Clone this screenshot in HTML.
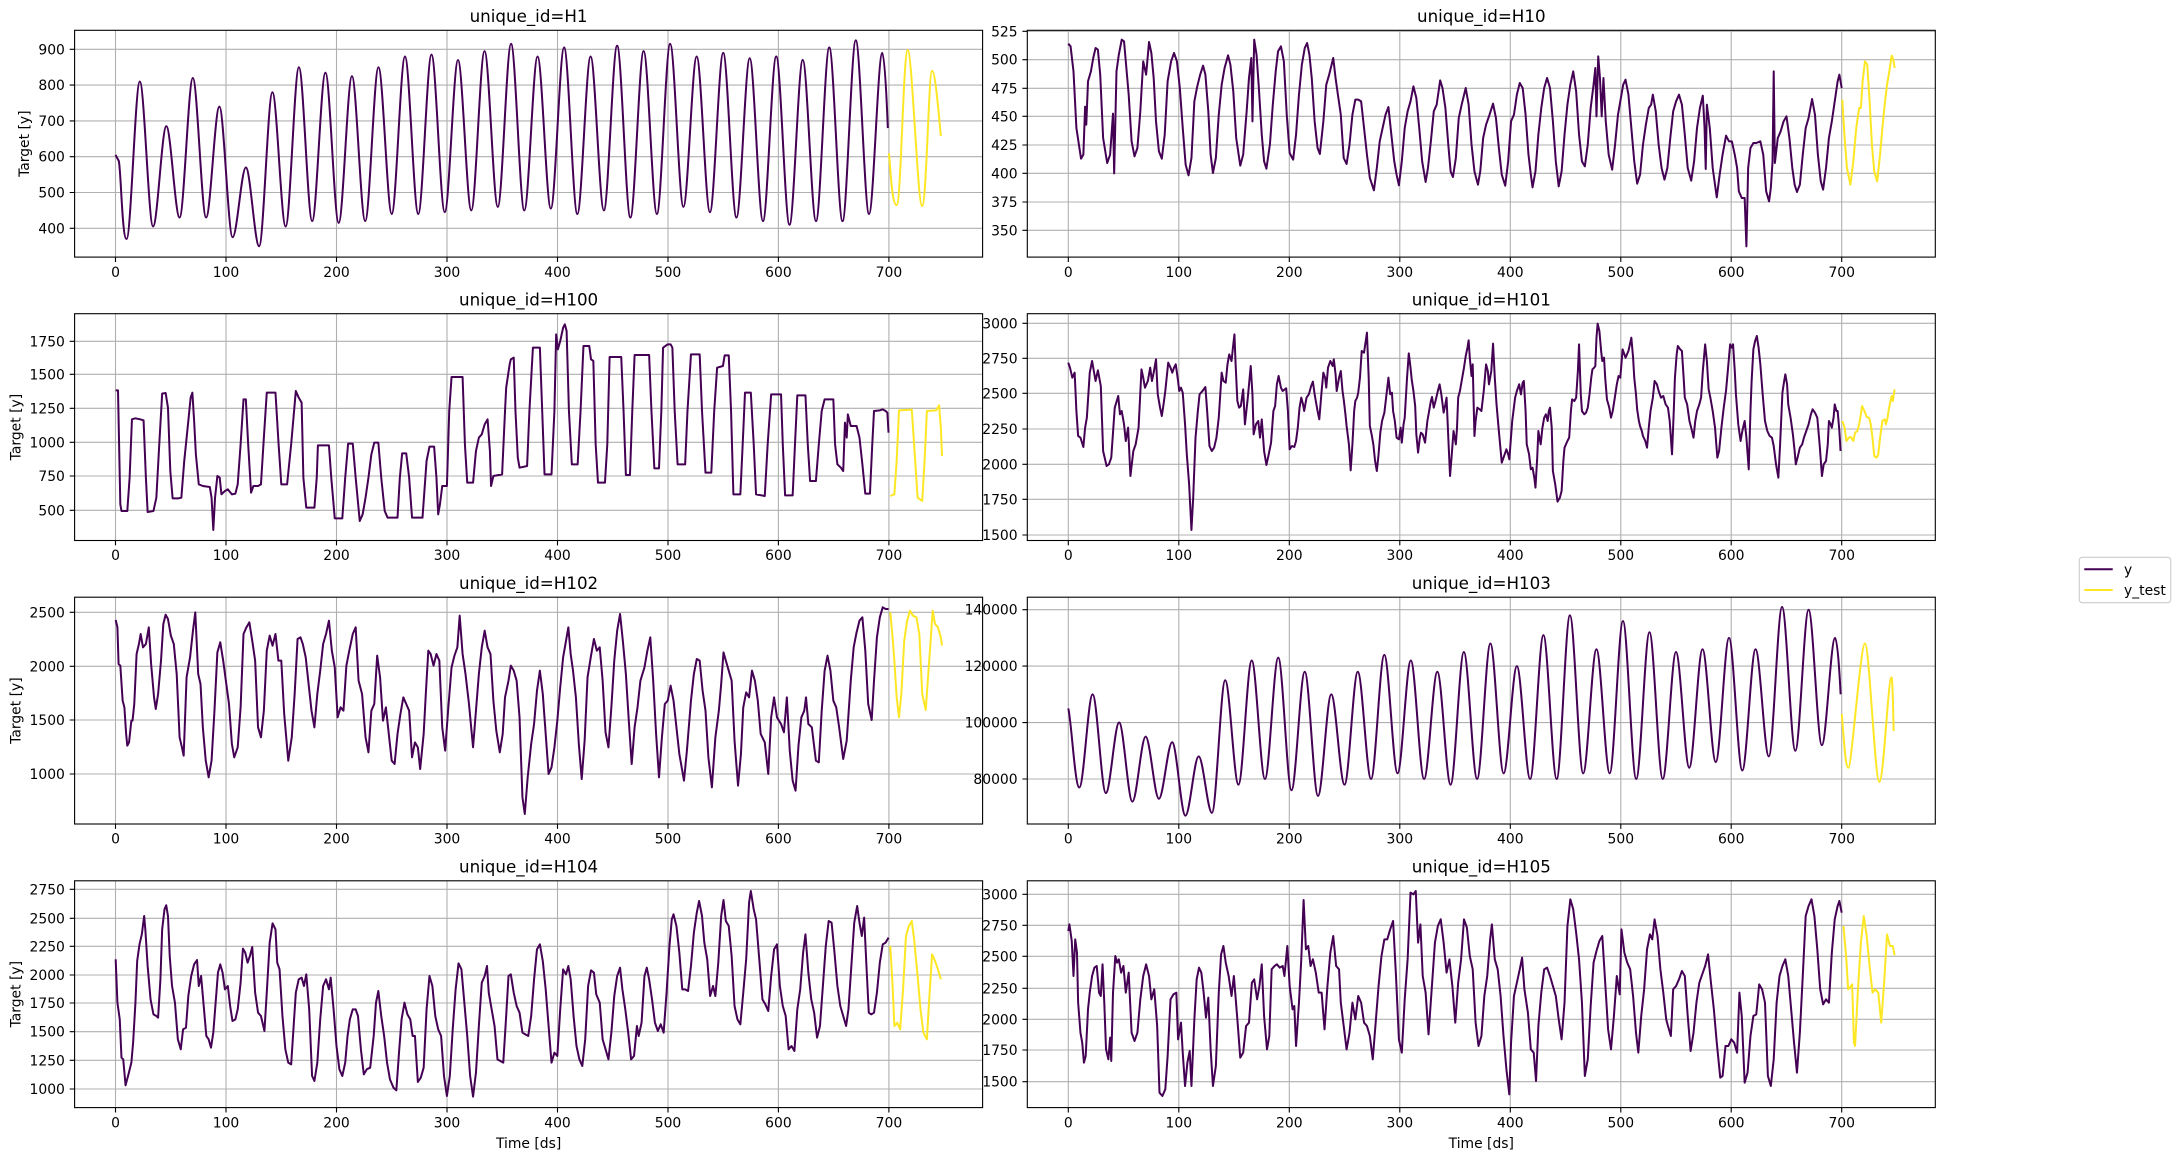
<!DOCTYPE html>
<html><head><meta charset="utf-8">
<style>
html,body{margin:0;padding:0;background:#fff;}
svg{display:block;}
text{font-family:"DejaVu Sans","Liberation Sans",sans-serif;fill:#000;}
.t{font-size:13.9px;}
.ti{font-size:16.7px;}
.g{stroke:#b0b0b0;stroke-width:1.1;fill:none;}
.tk{stroke:#000;stroke-width:1.1;fill:none;}
.ax{fill:none;stroke:#000;stroke-width:1.1;}
.p{fill:none;stroke:#440154;stroke-width:2;stroke-linejoin:round;vector-effect:non-scaling-stroke;}
.yl{fill:none;stroke:#fde725;stroke-width:2;stroke-linejoin:round;vector-effect:non-scaling-stroke;}
</style></head><body>
<svg xmlns="http://www.w3.org/2000/svg" width="2177" height="1161" viewBox="0 0 2177 1161">
<rect width="2177" height="1161" fill="#fff"/>

<!-- ================= H1 (left, row1) ================= -->
<path class="g" d="M115.5 30.3V257.1M226 30.3V257.1M336.5 30.3V257.1M447 30.3V257.1M557.5 30.3V257.1M668 30.3V257.1M778.4 30.3V257.1M888.9 30.3V257.1M74.6 228.3H982.6M74.6 192.5H982.6M74.6 156.7H982.6M74.6 120.9H982.6M74.6 85.1H982.6M74.6 49.3H982.6"/>
<path class="p" transform="matrix(1.1049 0 0 -0.358 115.5 371.5)" d="M0 605 L3 588 C5 560 6 370 10 370 S18 810 22 810 S30 405 34 405 S42 685 46 685 S54 430 58 430 S66 820 70 820 S78 430 82 430 S90 740 94 740 S102 375 106 375 S114 570 118 570 S126 350 130 350 S138 780 142 780 S150 405 154 405 S162 850 166 850 S174 420 178 420 S186 835 190 835 S198 415 202 415 S210 825 214 825 S222 420 226 420 S234 850 238 850 S246 440 250 440 S258 880 262 880 S270 440 274 440 S282 885 286 885 S294 445 298 445 S306 870 310 870 S318 450 322 450 S330 895 334 895 S342 460 346 460 S354 915 358 915 S366 450 370 450 S378 880 382 880 S390 455 394 455 S402 905 406 905 S414 440 418 440 S426 880 430 880 S438 450 442 450 S450 910 454 910 S462 430 466 430 S474 895 478 895 S486 440 490 440 S498 915 502 915 S510 460 514 460 S522 880 526 880 S534 445 538 445 S546 890 550 890 S558 430 562 430 S570 875 574 875 S582 420 586 420 S594 880 598 880 S606 410 610 410 S618 870 622 870 S630 420 634 420 S642 905 646 905 S654 420 658 420 S666 925 670 925 S678 440 682 440 S690 890 694 890 C696 890 698 760 699 680"/>
<path class="yl" transform="matrix(1.1049 0 0 -0.358 115.5 371.5)" d="M700 610 C702 540 703 465 707 465 S713 898 717 898 S726 462 730 462 S736 840 739 840 C742 840 745 720 747 658"/>
<path class="tk" d="M115.5 257.1v4.9M226 257.1v4.9M336.5 257.1v4.9M447 257.1v4.9M557.5 257.1v4.9M668 257.1v4.9M778.4 257.1v4.9M888.9 257.1v4.9M74.6 228.3h-4.9M74.6 192.5h-4.9M74.6 156.7h-4.9M74.6 120.9h-4.9M74.6 85.1h-4.9M74.6 49.3h-4.9"/>
<rect class="ax" x="74.6" y="30.3" width="908" height="226.8"/>
<g class="t" text-anchor="middle"><text x="115.5" y="276.8">0</text><text x="226" y="276.8">100</text><text x="336.5" y="276.8">200</text><text x="447" y="276.8">300</text><text x="557.5" y="276.8">400</text><text x="668" y="276.8">500</text><text x="778.4" y="276.8">600</text><text x="888.9" y="276.8">700</text></g>
<g class="t" text-anchor="end"><text x="64.9" y="233.3">400</text><text x="64.9" y="197.5">500</text><text x="64.9" y="161.7">600</text><text x="64.9" y="125.9">700</text><text x="64.9" y="90.1">800</text><text x="64.9" y="54.3">900</text></g>
<text class="ti" x="528.6" y="22" text-anchor="middle">unique_id=H1</text>
<text class="t" transform="translate(29 143.7) rotate(-90)" text-anchor="middle">Target [y]</text>

<!-- ================= H10 (right, row1) ================= -->
<path class="g" d="M1068.3 30.3V257.1M1178.8 30.3V257.1M1289.3 30.3V257.1M1399.8 30.3V257.1M1510.3 30.3V257.1M1620.8 30.3V257.1M1731.2 30.3V257.1M1841.7 30.3V257.1M1027.3 230.3H1935.3M1027.3 202H1935.3M1027.3 173.3H1935.3M1027.3 145H1935.3M1027.3 116.3H1935.3M1027.3 88.3H1935.3M1027.3 59.7H1935.3M1027.3 31.3H1935.3"/>
<polyline class="p" transform="matrix(0.58110 0 0 0.33333 1027 28)" points="71,47 75,55 80,130 85,300 93,392 97,380 100,236 102,290 105,160 110,130 114,90 118,60 122,65 126,140 131,330 138,405 143,380 148,257 150,436 154,130 158,80 163,35 167,40 170,100 175,200 180,340 185,385 190,360 195,250 200,100 205,140 210,42 214,75 218,150 222,280 227,370 232,392 237,320 242,160 248,100 253,75 258,100 263,180 268,300 273,410 278,442 283,390 288,220 293,175 298,140 303,113 307,140 312,250 316,380 320,435 325,390 330,260 335,170 340,120 346,82 350,110 355,190 360,330 367,413 372,380 378,250 382,150 386,90 388,280 391,35 395,80 399,180 404,320 408,400 412,422 418,350 423,230 428,130 432,70 437,55 442,100 447,260 452,375 458,395 463,320 468,200 473,110 478,60 482,45 486,80 490,150 495,280 500,360 504,378 510,280 515,170 520,140 527,90 531,150 535,200 540,260 545,390 550,408 555,350 560,260 565,215 570,215 575,220 580,300 585,380 590,450 597,487 602,420 607,340 612,300 617,260 622,237 627,320 632,400 636,440 640,472 645,400 650,300 655,250 660,220 665,175 670,210 675,300 680,400 686,462 690,420 695,340 700,250 705,230 711,157 715,180 720,240 725,350 729,430 733,447 738,390 743,270 748,230 755,180 760,230 765,350 770,430 776,470 780,430 785,330 790,290 796,260 802,227 807,270 812,360 817,440 823,473 828,400 833,280 838,260 843,200 848,165 853,180 858,260 863,380 867,440 870,478 875,430 880,320 885,240 890,180 895,150 900,180 905,280 910,400 915,475 920,430 925,320 930,230 935,170 940,130 945,190 950,320 955,400 960,415 965,350 970,240 975,170 978,120 980,265 983,85 986,150 989,265 992,150 996,280 1001,380 1007,425 1012,350 1017,260 1022,210 1026,170 1030,155 1035,200 1040,300 1045,400 1050,467 1055,440 1060,350 1065,290 1070,240 1074,230 1077,200 1082,250 1087,350 1092,420 1097,455 1102,420 1107,330 1112,250 1117,220 1122,200 1127,230 1132,320 1137,420 1143,458 1148,400 1153,300 1158,240 1163,203 1166,300 1168,423 1170,230 1175,300 1180,420 1187,508 1192,440 1197,380 1203,323 1208,340 1213,340 1218,380 1222,420 1225,490 1230,510 1235,510 1238,655 1241,420 1245,360 1250,345 1255,345 1262,340 1267,380 1272,490 1277,520 1280,480 1283,400 1285,130 1287,405 1292,330 1297,310 1302,280 1307,265 1312,330 1317,420 1321,470 1325,492 1330,470 1335,380 1340,300 1345,270 1351,213 1356,260 1361,380 1366,460 1370,485 1375,420 1380,330 1385,280 1390,220 1395,160 1398,140 1402,180"/>
<polyline class="yl" transform="matrix(0.58110 0 0 0.33333 1027 28)" points="1403,215 1407,330 1411,420 1417,470 1422,400 1427,300 1432,240 1435,240 1438,160 1442,100 1446,110 1450,220 1454,350 1458,430 1463,460 1468,380 1472,300 1476,230 1480,170 1484,130 1488,83 1491,95 1493,120"/>
<path class="tk" d="M1068.3 257.1v4.9M1178.8 257.1v4.9M1289.3 257.1v4.9M1399.8 257.1v4.9M1510.3 257.1v4.9M1620.8 257.1v4.9M1731.2 257.1v4.9M1841.7 257.1v4.9M1027.3 230.3h-4.9M1027.3 202h-4.9M1027.3 173.3h-4.9M1027.3 145h-4.9M1027.3 116.3h-4.9M1027.3 88.3h-4.9M1027.3 59.7h-4.9M1027.3 31.3h-4.9"/>
<rect class="ax" x="1027.3" y="30.3" width="908" height="226.8"/>
<g class="t" text-anchor="middle"><text x="1068.3" y="276.8">0</text><text x="1178.8" y="276.8">100</text><text x="1289.3" y="276.8">200</text><text x="1399.8" y="276.8">300</text><text x="1510.3" y="276.8">400</text><text x="1620.8" y="276.8">500</text><text x="1731.2" y="276.8">600</text><text x="1841.7" y="276.8">700</text></g>
<g class="t" text-anchor="end"><text x="1017.6" y="235.3">350</text><text x="1017.6" y="207">375</text><text x="1017.6" y="178.3">400</text><text x="1017.6" y="150">425</text><text x="1017.6" y="121.3">450</text><text x="1017.6" y="93.3">475</text><text x="1017.6" y="64.7">500</text><text x="1017.6" y="36.3">525</text></g>
<text class="ti" x="1481.3" y="22" text-anchor="middle">unique_id=H10</text>

<!-- ================= H100 (left, row2) ================= -->
<path class="g" d="M115.5 313.7V540.5M226 313.7V540.5M336.5 313.7V540.5M447 313.7V540.5M557.5 313.7V540.5M668 313.7V540.5M778.4 313.7V540.5M888.9 313.7V540.5M74.6 510.3H982.6M74.6 476H982.6M74.6 442.3H982.6M74.6 408.3H982.6M74.6 374.3H982.6M74.6 341.3H982.6"/>
<polyline class="p" transform="matrix(0.58110 0 0 0.33333 75 311)" points="70,238 74,238 78,580 80,600 90,600 94,500 98,325 104,322 112,325 118,328 122,500 125,603 135,600 140,560 145,400 150,248 156,246 160,290 164,480 168,562 178,562 183,560 188,450 195,330 199,260 202,245 205,330 208,430 213,520 220,525 232,528 235,560 238,657 241,560 245,495 249,500 252,550 258,540 263,535 270,550 276,548 280,520 285,400 290,265 294,265 298,400 303,545 307,525 315,525 320,520 325,380 330,245 345,245 350,390 355,520 365,520 372,400 380,240 385,260 390,275 393,500 398,590 412,590 416,500 418,403 437,403 441,500 447,622 460,622 465,500 470,398 478,398 483,500 490,630 495,610 500,560 505,500 510,430 515,395 522,395 527,500 533,600 538,620 555,620 559,500 563,427 570,427 575,500 580,620 598,620 605,450 610,407 618,407 622,500 625,610 628,580 632,525 640,525 644,300 648,198 667,198 671,400 675,515 685,515 690,420 695,380 700,370 705,340 710,325 714,420 716,525 720,495 735,490 740,300 742,230 748,160 750,145 755,140 758,300 762,440 765,470 778,465 782,300 788,110 800,110 804,300 808,490 820,490 825,300 828,70 831,115 835,90 840,50 843,40 846,60 850,300 855,460 865,460 870,300 875,105 885,105 888,145 892,150 896,400 900,515 912,515 916,400 920,138 940,138 944,300 948,492 955,492 959,300 963,132 988,132 992,300 997,472 1005,472 1009,300 1012,110 1020,100 1025,100 1028,110 1032,300 1037,460 1050,460 1054,300 1060,130 1075,130 1079,300 1085,485 1095,485 1100,300 1105,170 1115,165 1118,133 1125,133 1129,300 1133,550 1145,550 1149,400 1153,245 1163,245 1168,400 1172,550 1187,555 1192,400 1198,250 1215,250 1218,400 1222,553 1235,553 1239,400 1243,253 1257,253 1261,400 1265,510 1275,510 1280,400 1285,300 1290,265 1305,265 1308,400 1312,460 1318,470 1322,480 1325,335 1328,380 1330,310 1335,345 1345,345 1350,380 1355,460 1360,548 1368,548 1372,400 1375,300 1385,298 1390,295 1395,300 1398,305 1400,365"/>
<polyline class="yl" transform="matrix(0.58110 0 0 0.33333 75 311)" points="1403,555 1410,550 1414,450 1418,298 1440,296 1444,400 1450,560 1458,570 1462,450 1466,300 1482,298 1487,283 1490,350 1492,435"/>
<path class="tk" d="M115.5 540.5v4.9M226 540.5v4.9M336.5 540.5v4.9M447 540.5v4.9M557.5 540.5v4.9M668 540.5v4.9M778.4 540.5v4.9M888.9 540.5v4.9M74.6 510.3h-4.9M74.6 476h-4.9M74.6 442.3h-4.9M74.6 408.3h-4.9M74.6 374.3h-4.9M74.6 341.3h-4.9"/>
<rect class="ax" x="74.6" y="313.7" width="908" height="226.8"/>
<g class="t" text-anchor="middle"><text x="115.5" y="560.2">0</text><text x="226" y="560.2">100</text><text x="336.5" y="560.2">200</text><text x="447" y="560.2">300</text><text x="557.5" y="560.2">400</text><text x="668" y="560.2">500</text><text x="778.4" y="560.2">600</text><text x="888.9" y="560.2">700</text></g>
<g class="t" text-anchor="end"><text x="64.9" y="515.3">500</text><text x="64.9" y="481">750</text><text x="64.9" y="447.3">1000</text><text x="64.9" y="413.3">1250</text><text x="64.9" y="379.3">1500</text><text x="64.9" y="346.3">1750</text></g>
<text class="ti" x="528.6" y="305.4" text-anchor="middle">unique_id=H100</text>
<text class="t" transform="translate(20.5 427.1) rotate(-90)" text-anchor="middle">Target [y]</text>

<!-- ================= H101 (right, row2) ================= -->
<path class="g" d="M1068.3 313.7V540.5M1178.8 313.7V540.5M1289.3 313.7V540.5M1399.8 313.7V540.5M1510.3 313.7V540.5M1620.8 313.7V540.5M1731.2 313.7V540.5M1841.7 313.7V540.5M1027.3 535H1935.3M1027.3 499.3H1935.3M1027.3 464.3H1935.3M1027.3 429H1935.3M1027.3 393.3H1935.3M1027.3 358.3H1935.3M1027.3 323.3H1935.3"/>
<polyline class="p" transform="matrix(0.58110 0 0 0.33333 1027 311)" points="71,155 74,170 78,200 82,185 85,300 88,375 92,380 97,408 100,350 103,320 108,185 112,150 115,180 118,210 122,178 127,225 131,420 137,465 141,460 145,440 151,290 157,255 160,310 163,300 167,340 170,390 174,350 178,495 183,420 187,400 192,350 197,175 200,200 203,230 208,210 212,170 215,210 218,185 222,145 225,250 229,290 232,315 235,280 238,240 243,155 247,170 250,185 253,170 256,160 260,210 262,240 265,230 268,245 272,340 275,430 279,520 283,657 286,560 290,380 294,300 297,250 302,240 307,228 310,300 314,405 318,420 322,410 326,380 330,320 335,185 338,210 342,215 345,160 348,130 352,150 355,100 357,70 359,160 362,270 365,290 368,285 372,235 375,340 380,260 385,165 388,250 390,370 394,340 398,330 401,380 404,325 408,420 412,462 416,430 420,395 424,300 427,285 430,220 433,195 437,230 440,240 446,232 449,300 452,415 456,405 460,408 463,390 466,350 469,290 472,260 475,280 477,300 481,260 485,250 489,225 492,212 495,250 497,270 500,300 503,325 507,240 510,185 513,200 515,230 518,170 522,150 526,165 528,145 531,190 533,240 537,200 540,180 543,240 545,265 548,310 550,345 554,400 557,478 560,400 563,300 565,270 568,260 570,245 573,200 576,120 580,125 585,65 588,200 590,345 593,370 596,400 599,450 602,480 605,430 608,365 611,330 615,305 618,260 622,200 625,250 628,245 630,300 633,330 636,380 640,385 643,350 645,395 648,340 650,320 654,200 657,127 660,170 662,205 665,240 668,285 670,370 673,425 676,380 678,365 681,370 685,395 689,330 692,300 695,270 697,258 700,290 703,270 707,240 710,220 713,250 717,305 720,280 722,260 725,380 728,495 731,430 734,360 736,380 738,400 740,350 742,260 745,240 748,210 752,170 755,135 758,110 760,88 762,140 765,195 767,160 770,375 772,330 775,290 779,295 782,300 786,240 790,160 793,180 795,220 799,180 802,98 805,200 808,280 812,360 817,455 820,440 825,415 828,430 830,445 835,330 840,260 843,240 847,220 850,250 853,215 855,210 858,300 860,400 864,430 867,475 870,470 873,500 875,530 878,440 880,360 884,400 887,350 890,320 893,310 896,330 898,300 900,290 903,350 905,480 909,520 913,572 917,560 920,540 923,450 925,410 930,390 933,380 936,300 938,265 942,270 945,260 948,180 950,100 953,250 955,300 959,310 962,305 965,290 968,250 971,200 973,175 976,170 978,165 980,80 982,38 985,60 988,120 990,150 993,140 995,200 998,265 1002,290 1005,320 1008,300 1012,255 1015,220 1018,195 1021,200 1025,115 1030,140 1035,120 1040,80 1043,140 1045,200 1048,250 1050,295 1053,330 1055,345 1058,360 1060,375 1064,390 1067,410 1070,350 1073,300 1077,260 1080,210 1084,220 1087,240 1091,260 1095,255 1099,280 1103,290 1106,330 1110,430 1113,300 1115,200 1118,130 1120,105 1124,115 1127,120 1130,200 1132,260 1136,280 1140,330 1143,350 1147,380 1150,330 1153,300 1157,280 1160,260 1163,180 1167,100 1170,150 1173,235 1176,260 1180,300 1184,350 1188,440 1191,420 1195,350 1199,290 1203,238 1206,180 1210,100 1213,110 1215,100 1218,180 1220,250 1224,340 1228,390 1231,360 1235,330 1238,380 1242,475 1245,300 1247,210 1250,115 1253,90 1256,75 1259,110 1262,160 1266,250 1270,330 1274,360 1278,375 1282,380 1285,405 1289,460 1293,500 1296,400 1300,245 1303,210 1305,190 1308,220 1310,280 1314,320 1318,370 1321,420 1323,460 1326,440 1330,410 1334,400 1337,380 1341,360 1345,340 1349,310 1352,295 1356,305 1360,320 1364,400 1368,495 1371,460 1375,450 1378,400 1380,330 1383,340 1385,350 1388,320 1390,280 1393,300 1395,300 1398,360 1400,420"/>
<polyline class="yl" transform="matrix(0.58110 0 0 0.33333 1027 311)" points="1403,330 1407,350 1410,390 1414,380 1418,378 1422,390 1425,365 1429,360 1432,340 1435,310 1437,285 1441,300 1445,318 1449,320 1452,340 1455,380 1458,435 1462,440 1465,430 1468,380 1472,330 1476,325 1478,340 1481,320 1483,295 1486,270 1488,255 1490,270 1493,235"/>
<path class="tk" d="M1068.3 540.5v4.9M1178.8 540.5v4.9M1289.3 540.5v4.9M1399.8 540.5v4.9M1510.3 540.5v4.9M1620.8 540.5v4.9M1731.2 540.5v4.9M1841.7 540.5v4.9M1027.3 535h-4.9M1027.3 499.3h-4.9M1027.3 464.3h-4.9M1027.3 429h-4.9M1027.3 393.3h-4.9M1027.3 358.3h-4.9M1027.3 323.3h-4.9"/>
<rect class="ax" x="1027.3" y="313.7" width="908" height="226.8"/>
<g class="t" text-anchor="middle"><text x="1068.3" y="560.2">0</text><text x="1178.8" y="560.2">100</text><text x="1289.3" y="560.2">200</text><text x="1399.8" y="560.2">300</text><text x="1510.3" y="560.2">400</text><text x="1620.8" y="560.2">500</text><text x="1731.2" y="560.2">600</text><text x="1841.7" y="560.2">700</text></g>
<g class="t" text-anchor="end"><text x="1017.6" y="540">1500</text><text x="1017.6" y="504.3">1750</text><text x="1017.6" y="469.3">2000</text><text x="1017.6" y="434">2250</text><text x="1017.6" y="398.3">2500</text><text x="1017.6" y="363.3">2750</text><text x="1017.6" y="328.3">3000</text></g>
<text class="ti" x="1481.3" y="305.4" text-anchor="middle">unique_id=H101</text>

<!-- ================= H102 (left, row3) ================= -->
<path class="g" d="M115.5 597.2V824M226 597.2V824M336.5 597.2V824M447 597.2V824M557.5 597.2V824M668 597.2V824M778.4 597.2V824M888.9 597.2V824M74.6 774H982.6M74.6 720H982.6M74.6 666.3H982.6M74.6 612.3H982.6"/>
<polyline class="p" transform="matrix(0.58110 0 0 0.33333 75 594)" points="70,78 73,100 75,210 78,215 82,320 85,340 88,420 90,455 93,445 97,380 99,380 102,330 106,180 110,150 113,120 117,160 122,150 127,100 131,210 136,310 139,345 143,300 148,200 152,90 156,62 160,75 165,125 170,150 175,240 180,430 184,460 187,485 192,250 198,190 203,110 207,55 212,240 216,270 220,400 225,500 230,550 235,500 240,350 245,175 250,145 255,200 260,265 265,330 270,450 274,490 280,460 285,340 290,120 295,100 300,85 305,140 310,200 315,400 320,430 325,350 330,170 335,125 340,155 345,120 350,200 355,200 360,360 367,500 373,430 378,300 383,135 388,130 392,150 397,190 402,270 407,350 412,400 417,300 422,230 427,150 432,120 437,80 442,170 447,220 452,370 457,340 462,350 467,215 472,170 478,120 483,100 488,260 494,300 500,430 505,475 510,350 515,330 520,185 525,250 530,380 535,340 540,420 545,500 550,510 555,420 560,360 565,310 570,330 575,350 580,490 585,445 590,460 594,525 600,420 604,290 608,170 612,180 617,215 622,180 627,200 632,400 637,470 642,350 648,220 653,185 658,160 662,65 667,180 672,240 678,330 685,460 690,350 695,240 700,160 705,110 710,160 715,180 720,320 725,410 731,475 736,420 740,310 746,260 750,215 755,230 760,260 765,370 770,610 774,660 779,550 785,450 790,390 795,290 800,230 805,300 810,420 815,540 820,520 825,460 830,380 835,280 840,190 845,140 849,100 853,180 857,230 862,310 867,450 872,555 877,440 882,250 888,185 893,135 898,170 903,160 908,260 913,415 918,460 923,340 928,200 933,110 938,60 943,145 948,240 953,380 958,510 963,400 968,340 973,260 980,220 985,170 990,130 995,260 1000,420 1005,550 1010,430 1015,330 1020,320 1025,275 1030,320 1035,400 1040,480 1048,560 1053,470 1060,320 1065,240 1070,195 1075,200 1080,290 1085,350 1090,490 1096,580 1102,430 1108,350 1112,270 1116,175 1120,200 1125,230 1130,260 1135,440 1141,575 1146,480 1150,340 1155,295 1160,310 1165,230 1170,260 1175,320 1180,420 1187,445 1193,540 1198,370 1203,310 1208,370 1215,390 1220,415 1225,310 1230,470 1235,560 1240,590 1245,455 1250,370 1255,350 1258,310 1262,390 1268,400 1275,500 1280,505 1285,350 1290,230 1295,185 1300,230 1305,320 1310,340 1315,400 1322,495 1328,440 1335,260 1340,160 1345,115 1350,80 1355,70 1360,170 1365,330 1371,378 1375,260 1380,130 1385,70 1390,40 1395,45 1400,45"/>
<polyline class="yl" transform="matrix(0.58110 0 0 0.33333 75 594)" points="1403,55 1407,130 1410,200 1414,310 1418,370 1422,300 1427,140 1432,80 1437,50 1442,65 1448,70 1453,120 1458,300 1464,348 1470,200 1476,50 1480,90 1485,100 1490,130 1492,155"/>
<path class="tk" d="M115.5 824v4.9M226 824v4.9M336.5 824v4.9M447 824v4.9M557.5 824v4.9M668 824v4.9M778.4 824v4.9M888.9 824v4.9M74.6 774h-4.9M74.6 720h-4.9M74.6 666.3h-4.9M74.6 612.3h-4.9"/>
<rect class="ax" x="74.6" y="597.2" width="908" height="226.8"/>
<g class="t" text-anchor="middle"><text x="115.5" y="843.7">0</text><text x="226" y="843.7">100</text><text x="336.5" y="843.7">200</text><text x="447" y="843.7">300</text><text x="557.5" y="843.7">400</text><text x="668" y="843.7">500</text><text x="778.4" y="843.7">600</text><text x="888.9" y="843.7">700</text></g>
<g class="t" text-anchor="end"><text x="64.9" y="779">1000</text><text x="64.9" y="725">1500</text><text x="64.9" y="671.3">2000</text><text x="64.9" y="617.3">2500</text></g>
<text class="ti" x="528.6" y="588.9" text-anchor="middle">unique_id=H102</text>
<text class="t" transform="translate(20.5 710.6) rotate(-90)" text-anchor="middle">Target [y]</text>

<!-- ================= H103 (right, row3) ================= -->
<path class="g" d="M1068.3 597.2V824M1178.8 597.2V824M1289.3 597.2V824M1399.8 597.2V824M1510.3 597.2V824M1620.8 597.2V824M1731.2 597.2V824M1841.7 597.2V824M1027.3 779H1935.3M1027.3 722.6H1935.3M1027.3 666.1H1935.3M1027.3 609.7H1935.3"/>
<path class="p" transform="matrix(1.1049 0 0 -2.8217 1068.3 1004.73)" d="M0 105 C3 100 6 77 10 77 S18 110 22 110 S30 75 34 75 S42 100 46 100 S54 72 58 72 S66 95 70 95 S78 73 82 73 S90 93 94 93 S102 67 106 67 S114 88 118 88 S126 68 130 68 S138 115 142 115 S150 78 154 78 S162 122 166 122 S174 80 178 80 S186 123 190 123 S198 76 202 76 S210 118 214 118 S222 74 226 74 S234 110 238 110 S246 78 250 78 S258 118 262 118 S270 80 274 80 S282 124 286 124 S294 82 298 82 S306 122 310 122 S318 80 322 80 S330 118 334 118 S342 78 346 78 S354 125 358 125 S366 80 370 80 S378 128 382 128 S390 82 394 82 S402 120 406 120 S414 80 418 80 S426 131 430 131 S438 80 442 80 S450 138 454 138 S462 82 466 82 S474 126 478 126 S486 82 490 82 S498 136 502 136 S510 80 514 80 S522 132 526 132 S534 80 538 80 S546 125 550 125 S558 84 562 84 S570 126 574 126 S582 86 586 86 S594 130 598 130 S606 83 610 83 S618 126 622 126 S630 88 634 88 S642 141 646 141 S654 90 658 90 S666 140 670 140 S678 92 682 92 S690 130 694 130 C696 130 698 118 699 110"/>
<path class="yl" transform="matrix(1.1049 0 0 -2.8217 1068.3 1004.73)" d="M700 103 C702 95 703 84 706 84 S717 128 721 128 S730 79 734 79 S742 116 745 116 C746 116 746.5 105 747 97"/>
<path class="tk" d="M1068.3 824v4.9M1178.8 824v4.9M1289.3 824v4.9M1399.8 824v4.9M1510.3 824v4.9M1620.8 824v4.9M1731.2 824v4.9M1841.7 824v4.9M1027.3 779h-4.9M1027.3 722.6h-4.9M1027.3 666.1h-4.9M1027.3 609.7h-4.9"/>
<rect class="ax" x="1027.3" y="597.2" width="908" height="226.8"/>
<g class="t" text-anchor="middle"><text x="1068.3" y="843.7">0</text><text x="1178.8" y="843.7">100</text><text x="1289.3" y="843.7">200</text><text x="1399.8" y="843.7">300</text><text x="1510.3" y="843.7">400</text><text x="1620.8" y="843.7">500</text><text x="1731.2" y="843.7">600</text><text x="1841.7" y="843.7">700</text></g>
<g class="t" text-anchor="end"><text x="1017.6" y="784">80000</text><text x="1017.6" y="727.6">100000</text><text x="1017.6" y="671.1">120000</text><text x="1017.6" y="614.7">140000</text></g>
<text class="ti" x="1481.3" y="588.9" text-anchor="middle">unique_id=H103</text>

<!-- ================= H104 (left, row4) ================= -->
<path class="g" d="M115.5 880.8V1107.6M226 880.8V1107.6M336.5 880.8V1107.6M447 880.8V1107.6M557.5 880.8V1107.6M668 880.8V1107.6M778.4 880.8V1107.6M888.9 880.8V1107.6M74.6 1089H982.6M74.6 1060.3H982.6M74.6 1031.7H982.6M74.6 1003H982.6M74.6 975H982.6M74.6 946.3H982.6M74.6 918.3H982.6M74.6 889.3H982.6"/>
<polyline class="p" transform="matrix(0.58110 0 0 0.33333 75 876)" points="70,250 73,380 77,430 80,545 83,550 87,628 92,595 97,560 100,500 104,380 107,255 111,205 115,175 119,120 121,160 125,270 130,370 135,415 140,420 143,425 147,310 150,160 154,100 157,88 160,120 163,240 167,330 172,380 177,490 182,520 186,460 191,455 195,360 200,300 205,265 210,252 213,330 217,300 222,400 226,480 230,490 234,515 238,470 242,380 246,290 250,265 254,290 258,340 263,330 267,390 271,435 276,430 280,400 285,320 289,218 293,230 297,260 301,240 305,213 310,350 315,410 320,420 326,465 330,350 335,200 340,142 345,160 348,260 352,280 357,420 362,520 367,560 372,565 377,430 380,350 385,310 390,305 394,330 398,295 403,400 408,600 412,615 417,560 422,430 427,330 432,310 437,340 440,305 445,400 450,510 455,580 460,600 465,560 469,480 473,430 478,400 483,400 487,420 492,520 497,595 502,580 508,575 514,480 518,380 522,345 527,420 532,480 537,560 542,610 548,635 553,643 558,520 562,430 567,380 572,415 577,430 581,480 585,480 590,618 595,605 600,575 605,400 610,300 615,330 620,420 625,460 630,480 635,600 640,660 645,600 650,460 655,340 660,262 665,280 670,380 675,480 680,600 685,662 690,590 695,450 700,320 705,300 709,270 712,350 717,400 722,450 727,550 732,555 737,560 742,420 746,300 750,295 755,350 760,390 765,410 770,470 775,475 780,480 785,420 790,310 795,220 800,205 805,255 810,340 815,450 820,560 825,530 830,540 835,400 840,280 845,295 849,270 853,310 858,420 863,510 868,550 873,570 878,490 883,330 888,283 893,290 897,355 903,380 908,490 913,520 918,550 923,470 928,360 933,300 938,275 942,340 947,400 952,470 957,550 962,540 967,450 970,480 975,440 980,300 984,275 988,310 993,370 998,440 1003,465 1008,445 1013,470 1018,350 1023,210 1027,130 1030,115 1035,150 1040,230 1045,340 1050,340 1055,345 1060,270 1065,170 1070,110 1074,75 1079,120 1083,200 1088,250 1093,360 1098,330 1102,360 1107,260 1112,120 1116,72 1120,135 1125,150 1130,240 1135,390 1140,430 1145,445 1150,350 1155,250 1160,80 1163,45 1168,100 1172,130 1178,260 1183,370 1188,385 1193,405 1198,300 1203,220 1208,205 1213,330 1218,390 1223,420 1228,520 1233,510 1238,525 1243,400 1248,340 1253,230 1257,175 1262,290 1267,370 1272,410 1277,485 1282,450 1287,330 1292,210 1297,135 1302,140 1307,230 1312,330 1317,390 1322,420 1327,450 1331,400 1336,270 1341,140 1346,90 1350,140 1354,180 1358,125 1362,270 1366,410 1370,415 1375,410 1380,350 1385,260 1390,205 1395,200 1400,185"/>
<polyline class="yl" transform="matrix(0.58110 0 0 0.33333 75 876)" points="1403,210 1407,330 1410,450 1415,440 1420,460 1425,340 1430,180 1435,150 1440,135 1444,190 1450,300 1455,400 1460,470 1466,490 1470,370 1475,235 1480,255 1485,280 1490,310"/>
<path class="tk" d="M115.5 1107.6v4.9M226 1107.6v4.9M336.5 1107.6v4.9M447 1107.6v4.9M557.5 1107.6v4.9M668 1107.6v4.9M778.4 1107.6v4.9M888.9 1107.6v4.9M74.6 1089h-4.9M74.6 1060.3h-4.9M74.6 1031.7h-4.9M74.6 1003h-4.9M74.6 975h-4.9M74.6 946.3h-4.9M74.6 918.3h-4.9M74.6 889.3h-4.9"/>
<rect class="ax" x="74.6" y="880.8" width="908" height="226.8"/>
<g class="t" text-anchor="middle"><text x="115.5" y="1127.3">0</text><text x="226" y="1127.3">100</text><text x="336.5" y="1127.3">200</text><text x="447" y="1127.3">300</text><text x="557.5" y="1127.3">400</text><text x="668" y="1127.3">500</text><text x="778.4" y="1127.3">600</text><text x="888.9" y="1127.3">700</text></g>
<g class="t" text-anchor="end"><text x="64.9" y="1094">1000</text><text x="64.9" y="1065.3">1250</text><text x="64.9" y="1036.7">1500</text><text x="64.9" y="1008">1750</text><text x="64.9" y="980">2000</text><text x="64.9" y="951.3">2250</text><text x="64.9" y="923.3">2500</text><text x="64.9" y="894.3">2750</text></g>
<text class="ti" x="528.6" y="872.5" text-anchor="middle">unique_id=H104</text>
<text class="t" transform="translate(20.5 994.2) rotate(-90)" text-anchor="middle">Target [y]</text>
<text class="t" x="528.6" y="1148" text-anchor="middle">Time [ds]</text>

<!-- ================= H105 (right, row4) ================= -->
<path class="g" d="M1068.3 880.8V1107.6M1178.8 880.8V1107.6M1289.3 880.8V1107.6M1399.8 880.8V1107.6M1510.3 880.8V1107.6M1620.8 880.8V1107.6M1731.2 880.8V1107.6M1841.7 880.8V1107.6M1027.3 1081.7H1935.3M1027.3 1050H1935.3M1027.3 1019.3H1935.3M1027.3 988.3H1935.3M1027.3 956.3H1935.3M1027.3 925.3H1935.3M1027.3 894.3H1935.3"/>
<polyline class="p" transform="matrix(0.58110 0 0 0.33333 1027 876)" points="71,165 73,145 77,195 80,300 83,190 86,230 88,380 92,470 95,500 98,560 101,540 105,400 108,350 112,300 116,275 120,270 124,350 127,360 130,265 133,380 136,520 140,550 143,485 145,555 148,350 152,240 155,260 158,250 162,290 166,270 170,350 175,290 180,470 185,495 190,470 195,370 200,300 205,265 210,300 214,370 219,340 224,450 228,650 233,660 238,640 242,540 247,370 252,355 257,350 260,490 265,440 268,530 272,630 276,560 280,525 283,630 288,430 292,310 296,275 300,290 304,350 308,425 312,365 316,520 320,630 325,570 330,350 334,235 338,210 342,260 347,300 352,360 356,300 362,430 367,545 372,530 377,450 382,440 387,320 391,310 396,370 400,330 404,265 408,420 413,520 417,480 421,280 426,270 430,265 435,275 440,270 443,300 448,210 452,330 457,400 460,390 463,510 468,380 472,250 476,72 480,220 484,210 488,270 492,250 497,290 502,350 507,350 512,460 517,330 522,230 527,180 532,270 537,280 540,380 545,450 550,520 555,470 560,380 565,430 570,360 575,380 580,440 585,450 590,480 595,550 600,440 605,330 610,240 615,190 620,190 625,160 630,135 635,300 640,490 645,530 650,370 655,250 660,50 665,55 669,45 673,200 677,145 681,300 686,350 691,475 696,350 702,200 707,150 712,130 717,200 722,290 727,250 732,330 737,440 742,320 747,250 752,130 757,155 762,240 767,280 772,440 777,510 782,480 787,360 792,300 797,190 800,145 805,250 810,280 815,360 820,480 825,580 830,655 833,500 838,360 843,320 848,280 852,245 856,340 862,410 867,520 872,530 876,615 880,450 885,350 890,280 895,275 900,300 905,330 910,360 915,430 920,490 925,380 930,150 935,70 940,100 945,170 950,250 955,380 960,600 965,550 970,390 975,260 980,225 985,195 990,180 995,320 1000,460 1005,520 1010,420 1015,300 1020,355 1023,160 1028,230 1033,260 1038,280 1043,360 1048,470 1052,530 1057,420 1062,340 1067,220 1072,175 1076,190 1080,130 1085,180 1090,280 1095,350 1100,430 1103,450 1108,480 1112,340 1117,330 1122,310 1127,285 1132,300 1137,420 1142,525 1147,470 1152,380 1157,320 1162,295 1167,270 1172,235 1177,320 1182,400 1187,500 1193,605 1197,600 1202,510 1207,510 1212,490 1217,500 1222,530 1226,350 1230,420 1235,620 1240,590 1245,480 1250,420 1255,415 1260,325 1265,340 1270,380 1275,600 1280,630 1285,550 1290,380 1295,300 1300,270 1305,250 1310,300 1315,400 1320,500 1325,590 1330,470 1335,300 1340,120 1345,90 1350,70 1355,120 1360,220 1365,340 1370,385 1375,370 1380,380 1385,230 1390,130 1395,90 1398,75 1402,110"/>
<polyline class="yl" transform="matrix(0.58110 0 0 0.33333 1027 876)" points="1405,150 1410,250 1413,340 1418,330 1420,325 1423,500 1425,510 1430,340 1435,200 1440,120 1445,180 1450,270 1455,350 1460,340 1465,350 1470,440 1475,320 1480,175 1485,210 1490,210 1493,238"/>
<path class="tk" d="M1068.3 1107.6v4.9M1178.8 1107.6v4.9M1289.3 1107.6v4.9M1399.8 1107.6v4.9M1510.3 1107.6v4.9M1620.8 1107.6v4.9M1731.2 1107.6v4.9M1841.7 1107.6v4.9M1027.3 1081.7h-4.9M1027.3 1050h-4.9M1027.3 1019.3h-4.9M1027.3 988.3h-4.9M1027.3 956.3h-4.9M1027.3 925.3h-4.9M1027.3 894.3h-4.9"/>
<rect class="ax" x="1027.3" y="880.8" width="908" height="226.8"/>
<g class="t" text-anchor="middle"><text x="1068.3" y="1127.3">0</text><text x="1178.8" y="1127.3">100</text><text x="1289.3" y="1127.3">200</text><text x="1399.8" y="1127.3">300</text><text x="1510.3" y="1127.3">400</text><text x="1620.8" y="1127.3">500</text><text x="1731.2" y="1127.3">600</text><text x="1841.7" y="1127.3">700</text></g>
<g class="t" text-anchor="end"><text x="1017.6" y="1086.7">1500</text><text x="1017.6" y="1055">1750</text><text x="1017.6" y="1024.3">2000</text><text x="1017.6" y="993.3">2250</text><text x="1017.6" y="961.3">2500</text><text x="1017.6" y="930.3">2750</text><text x="1017.6" y="899.3">3000</text></g>
<text class="ti" x="1481.3" y="872.5" text-anchor="middle">unique_id=H105</text>
<text class="t" x="1481.3" y="1148" text-anchor="middle">Time [ds]</text>

<!-- ================= Legend ================= -->
<rect x="2079.3" y="557.3" width="91.4" height="45.4" rx="3" ry="3" fill="#fff" fill-opacity="0.8" stroke="#cccccc" stroke-width="1.1"/>
<line x1="2084.3" y1="569.3" x2="2112.7" y2="569.3" stroke="#440154" stroke-width="2"/>
<line x1="2084.3" y1="590" x2="2112.7" y2="590" stroke="#fde725" stroke-width="2"/>
<text class="t" x="2124" y="574.3">y</text>
<text class="t" x="2124" y="595">y_test</text>
</svg>
</body></html>
